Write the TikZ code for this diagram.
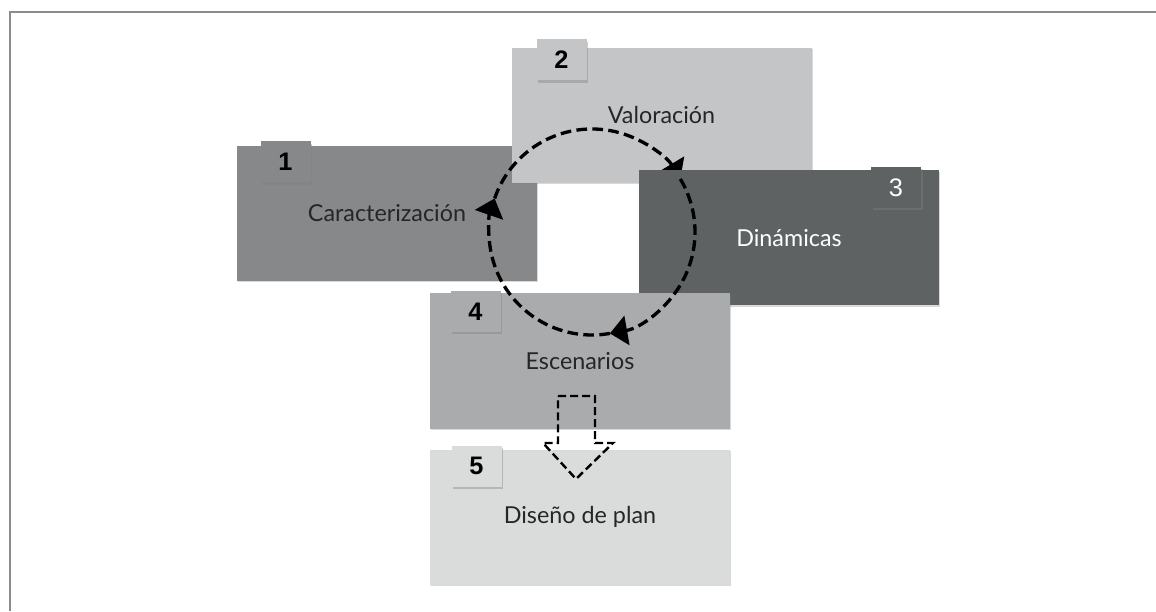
\documentclass[tikz,border=0pt]{standalone}
\usepackage{fontspec}
\setmainfont{Lato}
\newfontfamily\numfont{Liberation Sans}
\usetikzlibrary{arrows.meta,shadows}
\definecolor{gcarac}{HTML}{86888A}
\definecolor{gvalor}{HTML}{C3C5C6}
\definecolor{gdinam}{HTML}{5F6263}
\definecolor{gescen}{HTML}{A9ABAC}
\definecolor{gdisen}{HTML}{DADBDB}
\definecolor{gframe}{HTML}{8C8C8C}
\tikzset{>/.tip={Triangle[width=22pt,length=13pt]},
  box/.style={minimum width=225pt, minimum height=101.25pt, inner sep=0pt,
    font=\fontsize{17.5}{20}\selectfont, text=black!85,
    drop shadow={shadow xshift=0.9pt, shadow yshift=-1.1pt, opacity=.3}},
  badge/.style={minimum width=37.5pt, minimum height=30.75pt, inner sep=0pt,
    font=\numfont\bfseries\fontsize{19}{22}\selectfont,
    drop shadow={shadow xshift=1.2pt, shadow yshift=-1.8pt, opacity=.4}},
  cycle/.style={->, line width=2.5pt, dash pattern=on 8pt off 4pt},
  hollow/.style={line width=1.8pt, dash pattern=on 6pt off 3pt, line join=miter}}

\begin{document}
\begin{tikzpicture}[x=0.75pt, y=0.75pt]
\useasboundingbox (0,0) rectangle (1156,611);
\draw[gframe, line width=1.3pt] (10,0) -- (10,599) -- (1156,599);

\coordinate (mid) at (592,379);

\node[box, fill=gcarac] (carac) at (387,397.5) {Caracterización};
\node[badge, fill=gcarac] (n1) at (285.5,449) {1};
\node[box, fill=gvalor] (valor) at (661.5,495.5) {Valoración};
\node[badge, fill=gvalor] (n2) at (561.5,551) {2};

\draw[cycle] (mid) ++(161:103) arc[start angle=161, end angle=31, radius=103];

\node[box, fill=gdinam, text=white] (dinam) at (789,373) {Dinámicas};
\node[badge, fill=gdinam, text=white, font=\numfont\fontsize{19}{22}\selectfont] (n3) at (896,423.5) {3};
\node[box, fill=gescen] (escen) at (580,250) {Escenarios};
\node[badge, fill=gescen] (n4) at (475.5,299.5) {4};
\node[box, fill=gdisen] (disen) at (580,94) {Diseño de plan};
\node[badge, fill=gdisen] (n5) at (476.5,145) {5};

\draw[cycle] (mid) ++(31:103) arc[start angle=31, end angle=-80, radius=103];
\draw[cycle] (mid) ++(-80:103) arc[start angle=-80, end angle=-199, radius=103];

%\path[->] (escen) edge (disen);
\draw[hollow] (558,215) -- (595,215) -- (595,168) -- (613,168) -- (576,132)
  -- (543,168) -- (558,168) -- cycle;
\end{tikzpicture}
\end{document}
